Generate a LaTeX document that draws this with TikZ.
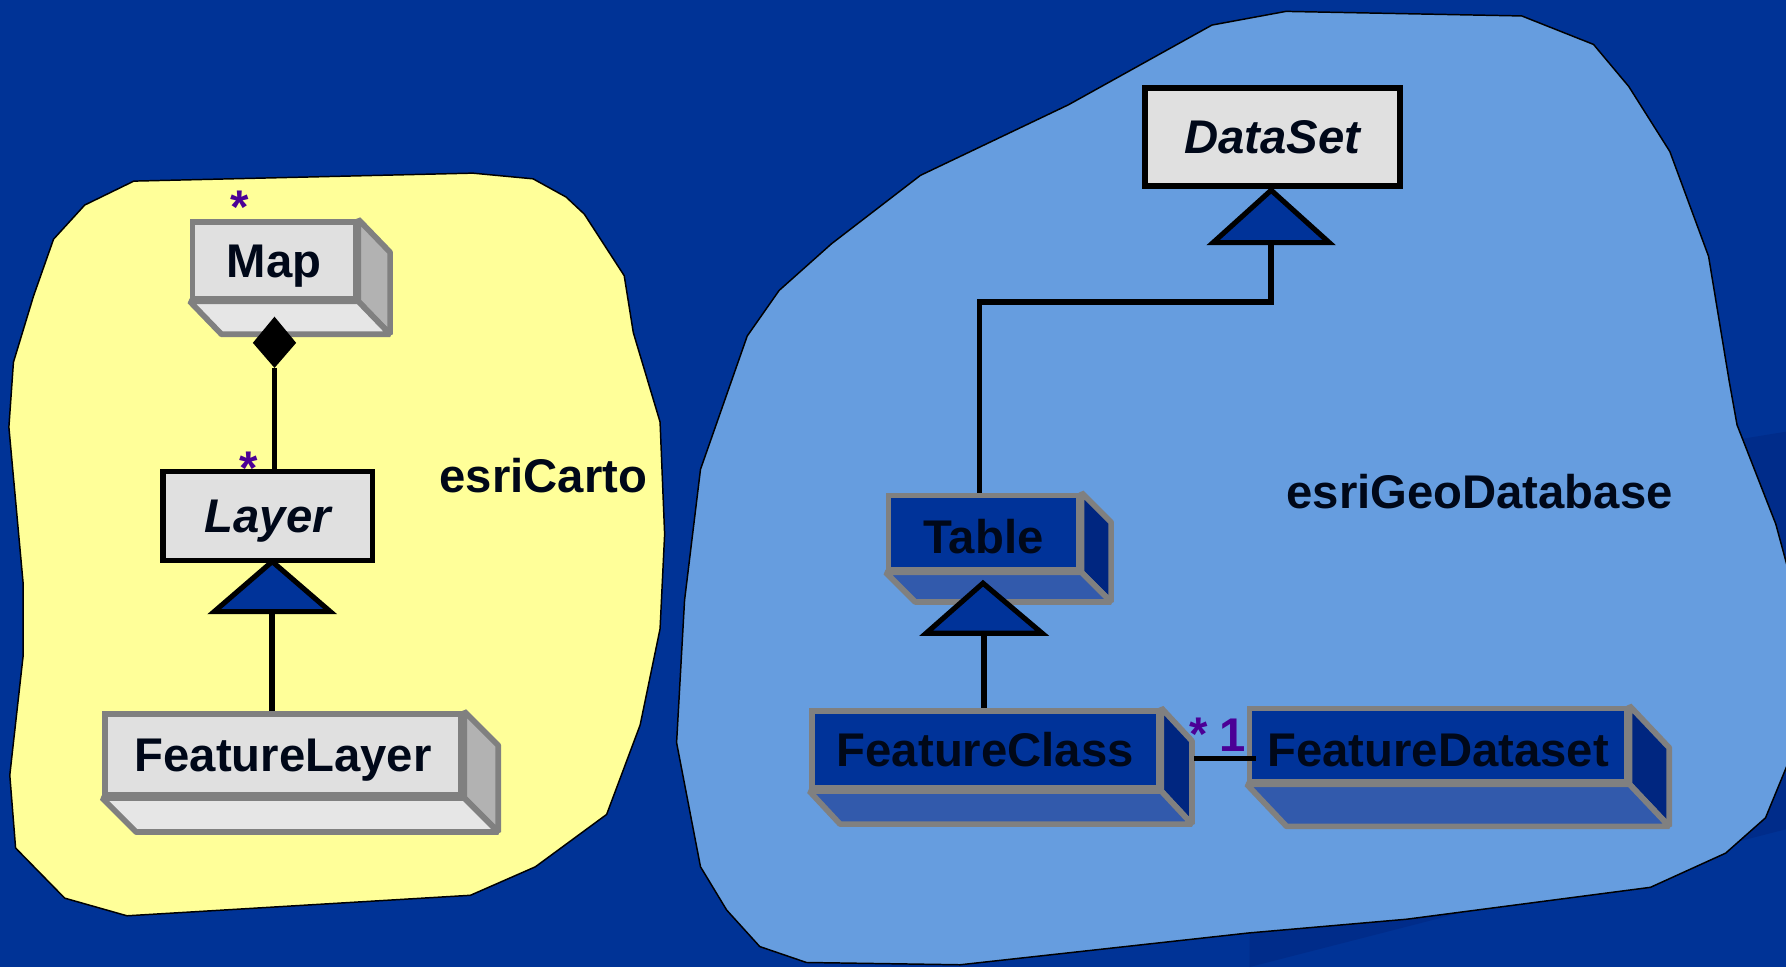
\documentclass[tikz,border=0pt]{standalone}
\usepackage{fontspec}
\setmainfont{Liberation Sans}
\usetikzlibrary{calc}

\definecolor{bg}{RGB}{0,51,150}
\definecolor{bgband}{RGB}{0,44,138}
\definecolor{yel}{RGB}{255,255,153}
\definecolor{lblue}{RGB}{102,157,223}
\definecolor{gfront}{RGB}{224,224,224}
\definecolor{gbottom}{RGB}{230,230,230}
\definecolor{gside}{RGB}{178,178,178}
\definecolor{gborder}{RGB}{128,128,128}
\definecolor{bfront}{RGB}{0,51,153}
\definecolor{bside}{RGB}{0,38,128}
\definecolor{bbottom}{RGB}{50,90,172}
\definecolor{txt}{RGB}{0,8,25}
\definecolor{purp}{RGB}{75,0,150}

\newcommand{\bigfont}{\fontsize{41.5}{50}\selectfont\bfseries}

\tikzset{
  cls/.style={font=\bigfont, text=txt, text height=29.7pt, text depth=0pt,
              inner sep=0pt, line width=5pt},
  lowtext/.style={text height=37.7pt},
  greycls/.style={cls, draw=gborder, fill=gfront},
  bluecls/.style={cls, draw=gborder, fill=bfront},
  abscls/.style={cls, draw=black, fill=gfront, font=\bigfont\itshape},
  pkglabel/.style={font=\bigfont, text=txt, inner sep=0pt, anchor=base},
  mult/.style={font=\bigfont, text=purp, inner sep=0pt, anchor=base},
  conn/.style={line width=5pt, draw=black},
  gen/.style={line width=4.5pt, draw=black, fill=bfront, line join=miter},
  blob/.style={draw=black, line width=1.3pt, line join=round},
}

\newcommand{\extrude}[5]{%
  \filldraw[draw=gborder, line width=5pt, line join=bevel, fill=#4]
    (#1.north east) -- ++(#2,#3) -- ([shift={(#2,#3)}]#1.south east) -- (#1.south east) -- cycle;
  \filldraw[draw=gborder, line width=5pt, line join=bevel, fill=#5]
    (#1.south west) -- ++(#2,#3) -- ([shift={(#2,#3)}]#1.south east) -- (#1.south east) -- cycle;
}

\begin{document}
\begin{tikzpicture}[x=1pt,y=-1pt]
\useasboundingbox (0,0) rectangle (1568,849);
\fill[bg] (0,0) rectangle (1568,849);
\fill[bgband] (1100,455) -- (1568,379) -- (1568,728) -- (1097,849) -- cycle;

% package blobs
\filldraw[blob, fill=yel]
  (117.5,159) -- (415,152) -- (468,157) -- (497,173) -- (513,188) -- (548,242)
  -- (556,292) -- (579.5,370.5) -- (583.5,469) -- (579.5,552) -- (562,636.5)
  -- (532.6,715) -- (470,761) -- (413,786) -- (111.5,804) -- (56.8,788.5)
  -- (13.7,744.5) -- (8.6,680.5) -- (20.4,575) -- (20.4,513) -- (7.8,375)
  -- (11.8,318) -- (29.4,260) -- (47,210) -- (74.4,180) -- cycle;

\filldraw[blob, fill=lblue]
  (808,154) -- (938,92) -- (1064,22) -- (1129,10) -- (1336,14) -- (1399,39)
  -- (1430,76) -- (1466,133) -- (1500,225) -- (1518,334) -- (1525,373)
  -- (1559,460) -- (1578,530) -- (1578,650) -- (1550,718) -- (1515,749)
  -- (1449,779) -- (1235,807) -- (1097,819) -- (843,847) -- (708,845)
  -- (667,831) -- (638,799) -- (615,761) -- (594,652) -- (601,527)
  -- (615,412) -- (656,295) -- (684,255) -- (730,214) -- cycle;

\node[pkglabel] (carto) at (477,432) {esriCarto};
\node[pkglabel] (geodb) at (1299,446) {esriGeoDatabase};

% classes
\node[greycls, minimum width=143pt, minimum height=67pt] (map) at (240.5,228.5) {Map};
\extrude{map}{28}{29}{gside}{gbottom}
\node[abscls, minimum width=184pt, minimum height=78pt] (layer) at (235,453) {Layer};
\node[greycls, minimum width=313pt, minimum height=71pt] (flayer) at (248.5,662.5) {FeatureLayer};
\extrude{flayer}{30}{30}{gside}{gbottom}

\node[abscls, minimum width=224pt, minimum height=86pt] (dataset) at (1117,120) {DataSet};
\node[bluecls, lowtext, minimum width=167pt, minimum height=65pt] (table) at (863.5,467.5) {Table};
\extrude{table}{26}{26}{bside}{bbottom}
\node[bluecls, minimum width=304pt, minimum height=68pt] (fclass) at (865,658) {FeatureClass};
\extrude{fclass}{27}{29}{bside}{bbottom}
\node[bluecls, lowtext, minimum width=331pt, minimum height=64pt] (fdataset) at (1262.5,654) {FeatureDataset};
\extrude{fdataset}{35}{37}{bside}{bbottom}

% composition Map <>-- Layer
\coordinate (dtop) at (241,278);
\coordinate (dbot) at (241,323);
\draw[conn] (dbot) -- (dbot |- layer.north);
\fill[black] (dtop) -- (260,301) -- (dbot) -- (222,301) -- cycle;

% generalization FeatureLayer -> Layer
\coordinate (lapex) at (239,493);
\coordinate (lbase) at (239,537);
\draw[conn] (lbase) -- (lbase |- flayer.north);
\draw[gen] ($(lbase)+(-51,0)$) -- (lapex) -- ($(lbase)+(51,0)$) -- cycle;

% generalization Table -> DataSet
\coordinate (dsapex) at (1116,167);
\coordinate (dsbase) at (1116,213);
\coordinate (dsbend) at (1116,265);
\draw[conn, line join=miter] (dsbase) -- (dsbend) -- (dsbend -| 860,0) -- (table.north -| 860,0);
\draw[gen] ($(dsbase)+(-51,0)$) -- (dsapex) -- ($(dsbase)+(51,0)$) -- cycle;

% generalization FeatureClass -> Table
\coordinate (tapex) at (863,512);
\coordinate (tbase) at (864,556);
\draw[conn] (tbase) -- (tbase |- fclass.north);
\draw[gen] ($(tbase)+(-51,0)$) -- (tapex) -- ($(tbase)+(51,0)$) -- cycle;

% association FeatureClass -- FeatureDataset
\draw[conn] ($(fclass.east)+(29,8)$) -- ($(fdataset.west)+(8,12)$);

% multiplicities
\node[mult] (m1) at (210,196.5) {*};
\node[mult] (m2) at (218,425) {*};
\node[mult] (m3) at (1052,659) {*};
\node[mult] (m4) at (1082,660) {1};
\end{tikzpicture}
\end{document}
